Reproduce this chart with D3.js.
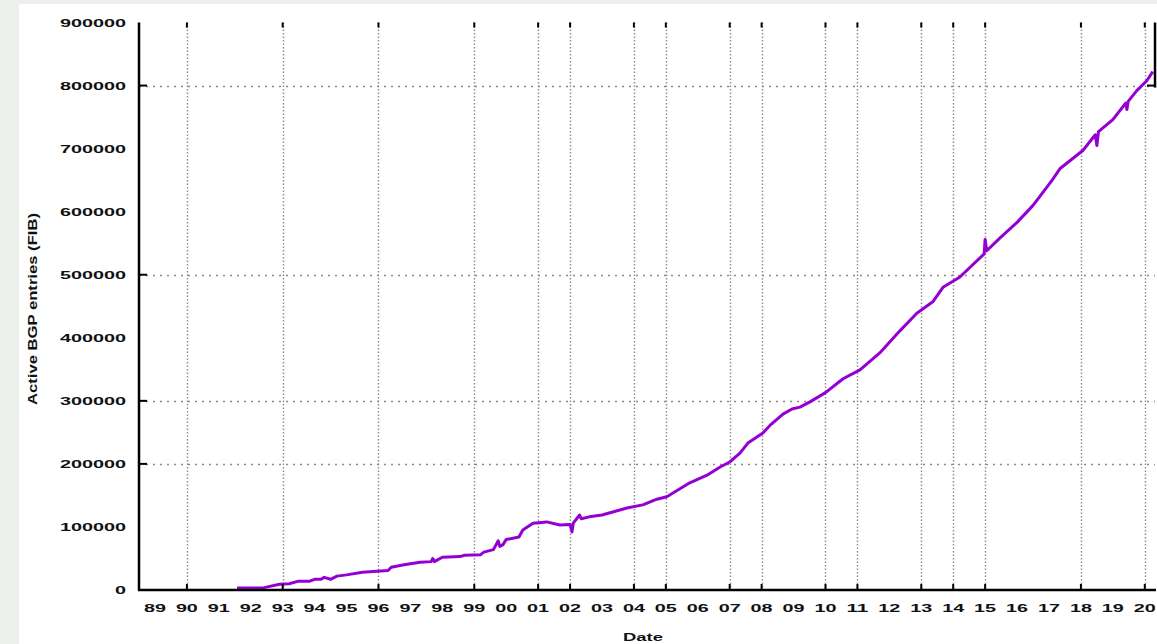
<!DOCTYPE html>
<html>
<head>
<meta charset="utf-8">
<script src="https://cdn.jsdelivr.net/npm/d3@7"></script>
<style>
    body { margin: 0; background: #ecf0eb; }
    svg text { font-family: 'Liberation Sans', Arial, sans-serif; fill: #111; }
</style>
</head>
<body>
<svg id="chart" width="1157" height="644"></svg>
<script>
// active BGP entries (decimal year, entries)
const dates = [1991.57, 1992.35, 1992.9, 1993.2, 1993.5, 1993.85, 1994.0, 1994.2, 1994.3, 1994.5,
    1994.7, 1995.0, 1995.5, 1996.3, 1996.4, 1996.8, 1997.3, 1997.65, 1997.7, 1997.75,
    1998.0, 1998.55, 1998.7, 1999.2, 1999.3, 1999.6, 1999.75, 1999.8, 1999.9, 2000.0,
    2000.4, 2000.52, 2000.84, 2001.27, 2001.68, 2002.0, 2002.06, 2002.1, 2002.3, 2002.35,
    2002.6, 2003.0, 2003.78, 2004.28, 2004.72, 2005.03, 2005.75, 2006.29, 2006.7, 2007.0,
    2007.32, 2007.57, 2008.04, 2008.26, 2008.67, 2008.95, 2009.2, 2009.5, 2010.0, 2010.55,
    2011.08, 2011.7, 2012.33, 2012.86, 2013.36, 2013.68, 2014.2, 2014.97, 2015.0, 2015.05,
    2015.46, 2016.0, 2016.5, 2017.1, 2017.34, 2018.06, 2018.45, 2018.5, 2018.55, 2019.0,
    2019.4, 2019.44, 2019.48, 2019.75, 2020.07, 2020.25];
const entries = [3000, 3000, 9000, 10000, 14000, 14000, 17000, 17000, 20000, 17000,
    22000, 24000, 28000, 31000, 36000, 40000, 44000, 45000, 50000, 45000,
    52000, 53000, 55000, 56000, 60000, 64000, 78000, 69000, 72000, 80000,
    84000, 95000, 106000, 108000, 103000, 104000, 92000, 106000, 119000, 113000,
    116000, 119000, 130000, 135000, 144000, 148000, 170000, 182000, 195000, 203000,
    217000, 233000, 249000, 261000, 279000, 287000, 290000, 298000, 313000, 335000,
    349000, 376000, 411000, 439000, 457000, 480000, 496000, 533000, 556000, 538000,
    558000, 583000, 610000, 650000, 668000, 697000, 722000, 705000, 727000, 746000,
    772000, 762000, 775000, 792000, 808000, 822000];

const tickYears = d3.range(1989, 2021);
const tickLabels = tickYears.map(y => String(y % 100).padStart(2, '0'));
const yTicks = d3.range(0, 900001, 100000);
// only these grid lines survive in the picture
const gridYears = [1990, 1993, 1996, 1999, 2001, 2002, 2004, 2005, 2007, 2008, 2010, 2011, 2013, 2014, 2015, 2018, 2020];
const gridValues = [200000, 300000, 500000, 800000];

const plotLeft = 139, plotRight = 1155, plotTop = 22.5, plotBottom = 590;
const charW = 11; // glyphs in the picture are stretched wide

const svg = d3.select('#chart');
svg.append('rect')
    .attr('x', 19).attr('y', 4)
    .attr('width', 1157 - 19).attr('height', 644 - 4)
    .attr('fill', '#ffffff');

const x = d3.scaleLinear().domain([1988.5, 2020.32]).range([plotLeft, plotRight]);
const y = d3.scaleLinear().domain([0, 900000]).range([plotBottom, plotTop]);

// grid
const grid = svg.append('g').attr('stroke', '#8a8a8a').attr('fill', 'none');
grid.selectAll('line.v').data(gridYears).enter().append('line')
    .attr('class', 'v')
    .attr('x1', d => Math.round(x(d)) + 0.5).attr('x2', d => Math.round(x(d)) + 0.5)
    .attr('y1', plotTop).attr('y2', plotBottom)
    .attr('stroke-width', 1.4)
    .attr('stroke-dasharray', '1.5,2');
grid.selectAll('line.h').data(gridValues).enter().append('line')
    .attr('class', 'h')
    .attr('x1', plotLeft).attr('x2', plotRight)
    .attr('y1', d => Math.round(y(d)) + 0.5).attr('y2', d => Math.round(y(d)) + 0.5)
    .attr('stroke-width', 1.6)
    .attr('stroke-dasharray', '2,5');

// data line
const line = d3.line().x(d => x(d[0])).y(d => y(d[1]));
svg.append('path')
    .datum(d3.zip(dates, entries))
    .attr('d', line)
    .attr('fill', 'none')
    .attr('stroke', '#9400d3')
    .attr('stroke-width', 3)
    .attr('stroke-linejoin', 'round');

// border
const border = svg.append('g').attr('stroke', '#000').attr('stroke-width', 2.5);
border.append('line').attr('x1', plotLeft).attr('x2', plotLeft).attr('y1', plotTop).attr('y2', plotBottom + 1);
border.append('line').attr('x1', plotLeft - 1).attr('x2', plotRight + 1).attr('y1', plotBottom).attr('y2', plotBottom);
border.append('line').attr('x1', plotRight).attr('x2', plotRight).attr('y1', plotTop).attr('y2', y(800000) + 2);

// tick marks at grid positions
const ticks = svg.append('g').attr('stroke', '#000').attr('stroke-width', 2);
gridValues.concat([0]).forEach(v => {
    ticks.append('line').attr('x1', plotLeft).attr('x2', plotLeft + 8).attr('y1', y(v)).attr('y2', y(v));
});
ticks.append('line').attr('x1', plotRight).attr('x2', plotRight - 8).attr('y1', y(800000)).attr('y2', y(800000));
gridYears.forEach(v => {
    ticks.append('line').attr('x1', x(v)).attr('x2', x(v)).attr('y1', plotBottom).attr('y2', plotBottom - 6);
    ticks.append('line').attr('x1', x(v)).attr('x2', x(v)).attr('y1', plotTop).attr('y2', plotTop + 5);
});

// y labels
const fmt = d3.format('d');
svg.append('g').selectAll('text').data(yTicks).enter().append('text')
    .attr('x', d => 126 - fmt(d).length * charW)
    .attr('y', d => y(d) + 4)
    .attr('font-size', 11)
    .attr('font-weight', 'bold')
    .attr('textLength', d => fmt(d).length * charW)
    .attr('lengthAdjust', 'spacingAndGlyphs')
    .text(d => fmt(d));

// x labels
svg.append('g').selectAll('text').data(tickYears).enter().append('text')
    .attr('x', (d, i) => x(d) - tickLabels[i].length * charW / 2)
    .attr('y', 612)
    .attr('font-size', 11)
    .attr('font-weight', 'bold')
    .attr('textLength', (d, i) => tickLabels[i].length * charW)
    .attr('lengthAdjust', 'spacingAndGlyphs')
    .text((d, i) => tickLabels[i]);

// axis titles
svg.append('text')
    .attr('x', 623).attr('y', 641)
    .attr('font-size', 11)
    .attr('font-weight', 'bold')
    .attr('textLength', 40)
    .attr('lengthAdjust', 'spacingAndGlyphs')
    .text('Date');

svg.append('text')
    .attr('transform', 'translate(37,405) rotate(-90)')
    .attr('font-size', 12)
    .attr('font-weight', 'bold')
    .attr('textLength', 192)
    .attr('lengthAdjust', 'spacingAndGlyphs')
    .text('Active BGP entries (FIB)');
</script>
</body>
</html>
